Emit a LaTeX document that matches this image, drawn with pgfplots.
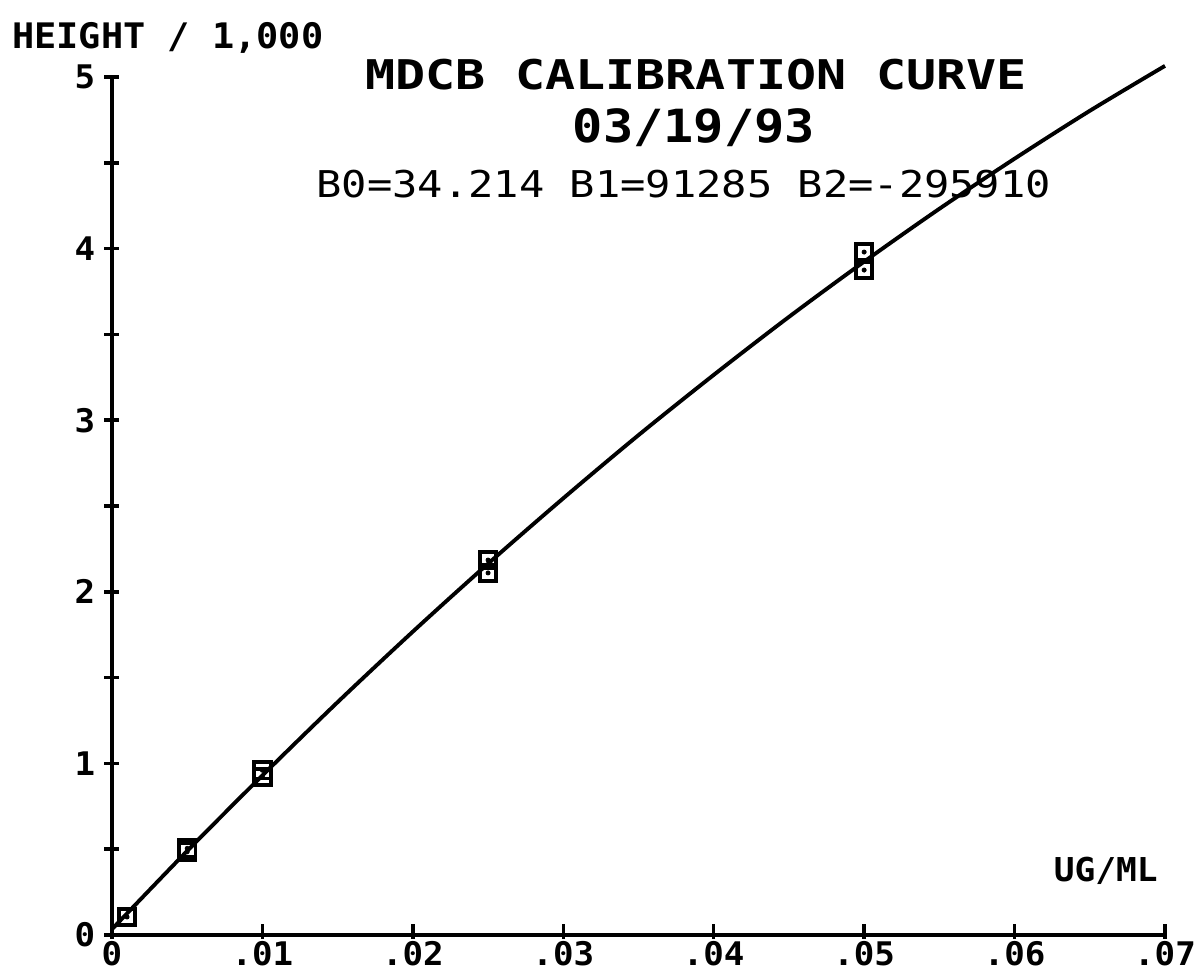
\documentclass[border=0pt]{standalone}
\usepackage{pgfplots}
\pgfplotsset{compat=1.18}
\usepackage{fontspec}
\setmainfont{DejaVu Sans Mono}
\newfontfamily\ftitle[FakeStretch=1.22]{DejaVu Sans Mono}
\newfontfamily\fdate[FakeStretch=1.1]{DejaVu Sans Mono}
\newfontfamily\fcoef[FakeStretch=1.14]{DejaVu Sans Mono}
\newfontfamily\ftick[FakeStretch=1.05]{DejaVu Sans Mono}

\pgfplotstableread{
x y
0 0.034
0.005 0.490
0.01 0.930
0.015 1.357
0.02 1.768
0.025 2.164
0.03 2.545
0.035 2.913
0.04 3.264
0.045 3.602
0.05 3.924
0.055 4.232
0.06 4.524
0.065 4.803
0.07 5.065
}\curvedata

\pgfplotstableread{
x y
0.001 0.105
0.005 0.505
0.005 0.485
0.01 0.96
0.01 0.92
0.025 2.185
0.025 2.11
0.05 3.98
0.05 3.875
}\pointdata

\begin{document}
\begin{tikzpicture}
\path[use as bounding box] (-2.24cm,-0.80cm) rectangle (21.78cm,18.70cm);
\begin{axis}[
  at={(0,0)}, anchor=south west,
  scale only axis,
  width=21.06cm, height=17.16cm,
  xmin=0, xmax=0.07, ymin=0, ymax=5,
  scaled x ticks=false, scaled y ticks=false,
  axis lines=left,
  axis line style={-, line width=2.2pt},
  clip=false,
  tick align=center,
  major tick length=0.3cm,
  minor tick length=0.3cm,
  every tick/.style={black, line width=2pt},
  x tick style={yshift=0.08cm},
  xtick={0,0.01,0.02,0.03,0.04,0.05,0.06,0.07},
  xticklabels={0,.01,.02,.03,.04,.05,.06,.07},
  ytick={0,1,2,3,4,5},
  yticklabels={0,1,2,3,4,5},
  minor ytick={0.5,1.5,2.5,3.5,4.5},
  ticklabel style={font=\ftick\bfseries\fontsize{18.5}{22}\selectfont},
  xticklabel style={anchor=north, inner sep=0pt, text depth=0pt, yshift=0.03cm},
  yticklabel style={anchor=east, inner sep=0pt, xshift=-0.18cm},
]
\addplot[black, line width=2.2pt, smooth, no marks] table[x=x,y=y] {\curvedata};
\addplot[black, only marks, mark=square, mark size=0.165cm, mark options={line width=2.2pt, fill=white}] table[x=x,y=y] {\pointdata};
\addplot[black, only marks, mark=*, mark size=1.2pt] table[x=x,y=y] {\pointdata};

\node[anchor=base west, inner sep=0pt, font=\ftick\bfseries\fontsize{20}{24}\selectfont] at (rel axis cs:-0.095,1.0338) {HEIGHT / 1,000};
\node[anchor=base, inner sep=0pt, font=\ftitle\bfseries\fontsize{23.3}{26}\selectfont] at (rel axis cs:0.5546,0.986) {MDCB CALIBRATION CURVE};
\node[anchor=base, inner sep=0pt, font=\fdate\bfseries\fontsize{26}{28}\selectfont] at (rel axis cs:0.5527,0.9242) {03/19/93};
\node[anchor=base, inner sep=0pt, font=\fcoef\fontsize{21}{24}\selectfont] at (rel axis cs:0.543,0.860) {B0=34.214 B1=91285 B2=-295910};
\node[anchor=base east, inner sep=0pt, font=\ftick\bfseries\fontsize{18.7}{22}\selectfont] at (rel axis cs:0.9934,0.0618) {UG/ML};
\end{axis}
\end{tikzpicture}
\end{document}
